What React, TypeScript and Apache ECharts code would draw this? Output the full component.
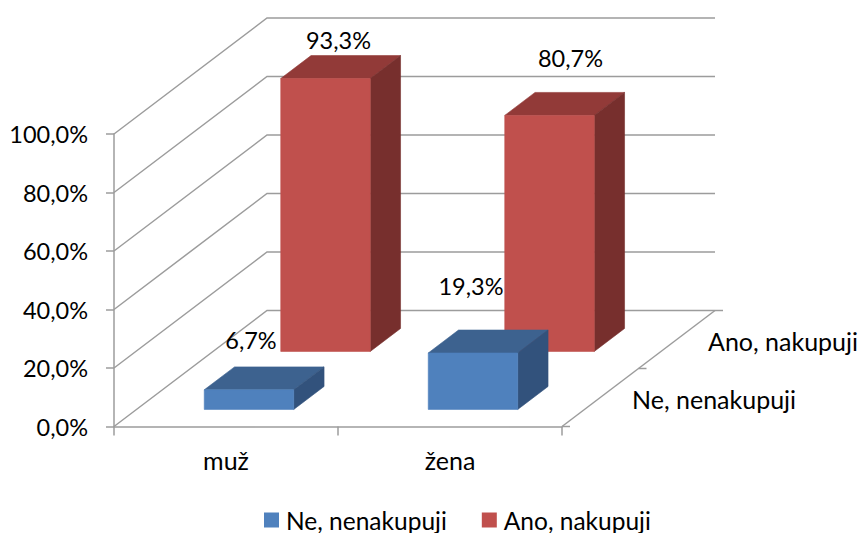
import React, { useEffect, useRef } from "react";
import * as echarts from "echarts";

const categories = ["muž", "žena"];
const depthLabels = ["Ne, nenakupuji", "Ano, nakupuji"];
const valuesNe = [6.7, 19.3];
const valuesAno = [93.3, 80.7];
const yTicks = [0, 20, 40, 60, 80, 100];

const labelOffsetsNe = [[2, -50], [-2, -67]];
const labelOffsetsAno = [[13, -39], [21, -57]];
const depthLabelPlaces = [[632, 399], [708, 341]];

const FONT = "Lato";
const NUM_SIZE = 23.5;
const WORD_SIZE = 25;
const LEGEND_SIZE = 24.5;
const GRAY = "#9c9c9c";
const DEPTH_DX = 153;
const DEPTH_DY = -116;
const BAR_WIDTH_RATIO = 89.5 / 224;
const BAR_SHIFT = 0.5;
const DEPTH_GAP = 0.147;
const DEPTH_THICK = 0.198;

const fmt = (v: number) => v.toFixed(1).replace(".", ",") + "%";

const poly = (points: number[][], fill: string) => ({
  type: "polygon",
  shape: { points },
  style: { fill, stroke: fill, lineWidth: 0.6 },
  silent: true,
});

function barRenderer(
  depthIndex: number,
  colors: { front: string; top: string; side: string },
  offsets: number[][]
) {
  return (params: any, api: any) => {
    const cat = api.value(0);
    const val = api.value(1);
    const c0 = api.coord([cat, 0]);
    const c1 = api.coord([cat, val]);
    const w = api.size([1, 0])[0] * BAR_WIDTH_RATIO;
    const f0 = depthIndex * 0.5 + DEPTH_GAP;
    const sx = f0 * DEPTH_DX + BAR_SHIFT;
    const sy = f0 * DEPTH_DY;
    const tx = DEPTH_THICK * DEPTH_DX;
    const ty = DEPTH_THICK * DEPTH_DY;
    const l = c0[0] - w / 2 + sx;
    const r = c0[0] + w / 2 + sx;
    const b = c0[1] + sy;
    const t = c1[1] + sy;
    return {
      type: "group",
      children: [
        poly([[l, t], [r, t], [r + tx, t + ty], [l + tx, t + ty]], colors.top),
        poly([[r, t], [r + tx, t + ty], [r + tx, b + ty], [r, b]], colors.side),
        poly([[l, t], [r, t], [r, b], [l, b]], colors.front),
        {
          type: "text",
          silent: true,
          style: {
            text: fmt(val),
            x: (l + r) / 2 + offsets[cat][0],
            y: t + offsets[cat][1],
            align: "center",
            verticalAlign: "middle",
            fill: "#000",
            font: `${NUM_SIZE}px ${FONT}`,
          },
        },
      ],
    };
  };
}

function wallRenderer(params: any, api: any) {
  const y = api.coord([0, api.value(1)])[1];
  const x0 = params.coordSys.x;
  const x1 = x0 + params.coordSys.width;
  return {
    type: "polyline",
    silent: true,
    shape: { points: [[x0, y], [x0 + DEPTH_DX, y + DEPTH_DY], [x1 + DEPTH_DX, y + DEPTH_DY]] },
    style: { fill: "none", stroke: GRAY, lineWidth: 1.5 },
  };
}

function depthAxisRenderer(params: any, api: any) {
  const idx = params.dataIndex;
  const y0 = api.coord([0, 0])[1];
  const x1 = params.coordSys.x + params.coordSys.width;
  const children: any[] = [];
  const tick = (f: number) => ({
    type: "line",
    silent: true,
    shape: {
      x1: x1 + f * DEPTH_DX,
      y1: y0 + f * DEPTH_DY,
      x2: x1 + f * DEPTH_DX + 8,
      y2: y0 + f * DEPTH_DY,
    },
    style: { stroke: GRAY, lineWidth: 1.5 },
  });
  if (idx === 0) {
    children.push({
      type: "line",
      silent: true,
      shape: { x1, y1: y0, x2: x1 + DEPTH_DX, y2: y0 + DEPTH_DY },
      style: { stroke: GRAY, lineWidth: 1.5 },
    });
    children.push(tick(0));
  }
  children.push(tick((idx + 1) * 0.5));
  children.push({
    type: "text",
    silent: true,
    style: {
      text: depthLabels[idx],
      x: depthLabelPlaces[idx][0],
      y: depthLabelPlaces[idx][1],
      align: "left",
      verticalAlign: "middle",
      fill: "#000",
      font: `${WORD_SIZE}px ${FONT}`,
    },
  });
  return { type: "group", children };
}

export default function App() {
  const ref = useRef<HTMLDivElement>(null);
  useEffect(() => {
    const chart = echarts.init(ref.current!, null, { renderer: "svg" });
    chart.setOption({
      animation: false,
      backgroundColor: "#fff",
      textStyle: { fontFamily: FONT },
      grid: { left: 114, right: 297, top: 134, bottom: 106.5, containLabel: false },
      legend: {
        data: depthLabels,
        left: 264,
        top: 507.5,
        padding: 0,
        icon: "rect",
        itemWidth: 15,
        itemHeight: 15,
        itemGap: 35,
        selectedMode: false,
        textStyle: { fontFamily: FONT, fontSize: LEGEND_SIZE, color: "#000", lineHeight: 25, padding: [0, 0, 0, 2] },
      },
      xAxis: {
        type: "category",
        data: categories,
        axisLine: { show: true, lineStyle: { color: GRAY, width: 1.5 } },
        axisTick: { show: true, length: 9, lineStyle: { color: GRAY, width: 1.5 } },
        axisLabel: { fontFamily: FONT, fontSize: WORD_SIZE, color: "#000", margin: 21 },
        splitLine: { show: false },
      },
      yAxis: {
        type: "value",
        min: 0,
        max: 100,
        interval: 20,
        axisLine: { show: true, lineStyle: { color: GRAY, width: 1.5 } },
        axisTick: { show: true, length: 8, lineStyle: { color: GRAY, width: 1.5 } },
        axisLabel: {
          fontFamily: FONT,
          fontSize: NUM_SIZE,
          color: "#000",
          margin: 26,
          formatter: (v: number) => fmt(v),
        },
        splitLine: { show: false },
      },
      series: [
        {
          type: "custom",
          name: "walls",
          clip: false,
          silent: true,
          renderItem: wallRenderer,
          encode: { x: 0, y: 1 },
          data: yTicks.map((t) => [0, t]),
        },
        {
          type: "custom",
          name: "depth",
          clip: false,
          silent: true,
          renderItem: depthAxisRenderer,
          encode: { x: 0, y: 1 },
          data: depthLabels.map(() => [0, 0]),
        },
        {
          type: "custom",
          name: depthLabels[1],
          clip: false,
          silent: true,
          itemStyle: { color: "#C0504D" },
          renderItem: barRenderer(1, { front: "#C0504D", top: "#923A38", side: "#772F2D" }, labelOffsetsAno),
          encode: { x: 0, y: 1 },
          data: valuesAno.map((v, i) => [i, v]),
        },
        {
          type: "custom",
          name: depthLabels[0],
          clip: false,
          silent: true,
          itemStyle: { color: "#4F81BD" },
          renderItem: barRenderer(0, { front: "#4F81BD", top: "#3D628F", side: "#32527C" }, labelOffsetsNe),
          encode: { x: 0, y: 1 },
          data: valuesNe.map((v, i) => [i, v]),
        },
      ],
    });
    return () => chart.dispose();
  }, []);
  return <div ref={ref} style={{ position: "fixed", left: 0, top: 0, width: 859, height: 533 }} />;
}
